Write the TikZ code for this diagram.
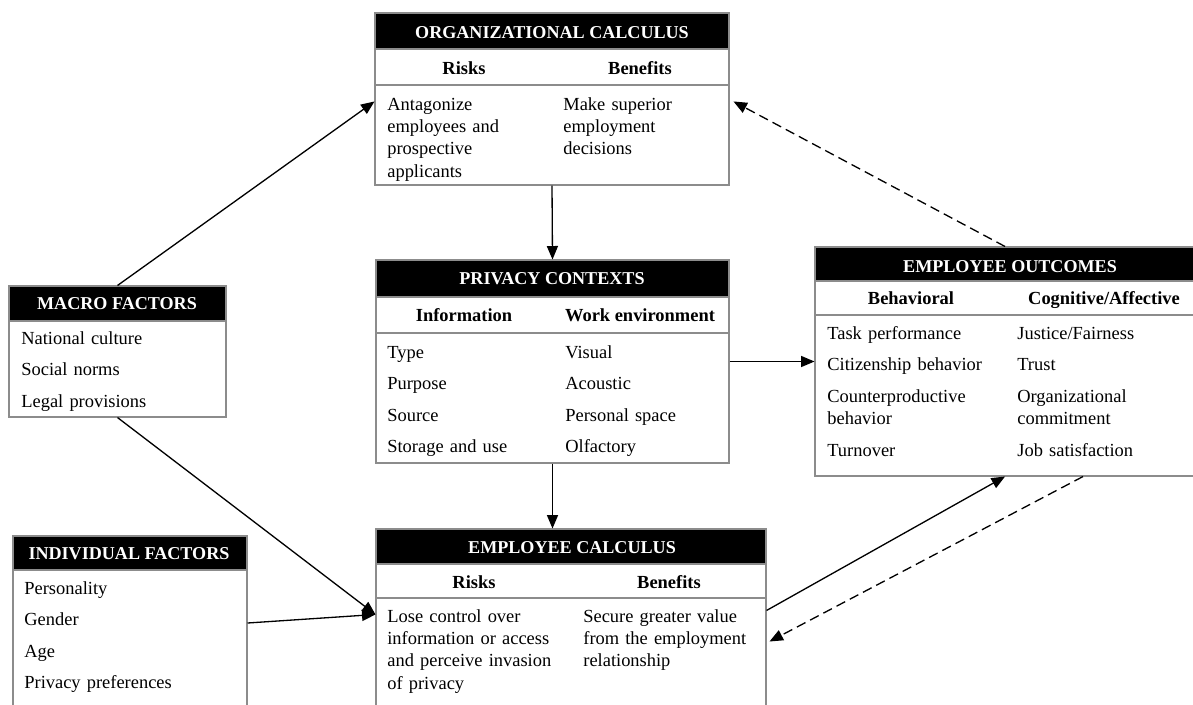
\documentclass[tikz,border=0pt]{standalone}
\usepackage{fontspec}
\setmainfont{Liberation Serif}
\usetikzlibrary{arrows,fit,calc}

\tikzset{
  box/.style={draw=gray!90, line width=0.6pt, inner sep=0pt},
  bar/.style={box, fill=black},
  bartext/.style={text=white, font=\fontsize{10.3}{12}\selectfont\bfseries, anchor=base, inner sep=0pt},
  headtext/.style={font=\fontsize{10.5}{12.8}\selectfont\bfseries, anchor=base, inner sep=0pt},
  itemtext/.style={font=\fontsize{10.5}{12.8}\selectfont, anchor=base west, inner sep=0pt, text width=4.2cm, align=left},
  itemlist/.style={itemtext, font=\fontsize{10.5}{18}\selectfont},
  conn/.style={->, >=triangle 45, line width=0.75pt},
  back/.style={conn, dash pattern=on 5.5pt off 3pt},
}

\begin{document}
\begin{tikzpicture}[x=0.02cm, y=-0.02cm]
\useasboundingbox (0,0) rectangle (1193,704);

% organizational calculus
\node[box, fit={(375,13) (729,185)}] (org) {};
\node[bar, fit={(375,13) (729,49)}] (orgbar) {};
\node[box, fit={(375,49) (729,85)}] (orghead) {};
\node[bartext] (orgtitle) at (552,38) {ORGANIZATIONAL CALCULUS};
\node[headtext] (orgrisk) at (464,74) {Risks};
\node[headtext] (orgbenefit) at (640,74) {Benefits};
\node[itemtext] (orgrisks) at (387,110) {Antagonize\\employees and\\prospective\\applicants};
\node[itemtext] (orgbenefits) at (563,110) {Make superior\\employment\\decisions};

% privacy contexts
\node[box, fit={(376,260) (729,463)}] (priv) {};
\node[bar, fit={(376,260) (729,297)}] (privbar) {};
\node[box, fit={(376,297) (729,333)}] (privhead) {};
\node[bartext] (privtitle) at (552,284) {PRIVACY CONTEXTS};
\node[headtext] (privinfo) at (464,321) {Information};
\node[headtext] (privwork) at (640,321) {Work environment};
\node[itemlist] (privinfos) at (387,358) {Type\\Purpose\\Source\\Storage and use};
\node[itemlist] (privworks) at (565,358) {Visual\\Acoustic\\Personal space\\Olfactory};

% employee outcomes
\node[box, fit={(815,247) (1195,476)}] (eo) {};
\node[bar, fit={(815,247) (1195,281)}] (eobar) {};
\node[box, fit={(815,281) (1195,315)}] (eohead) {};
\node[bartext] (eotitle) at (1010,272) {EMPLOYEE OUTCOMES};
\node[headtext] (eobehav) at (911,304) {Behavioral};
\node[headtext] (eocogn) at (1104,304) {Cognitive/Affective};
\node[itemlist] (eobehavs) at (827,339) {Task performance\\Citizenship behavior\\Counterproductive\\[-5.2pt]behavior\\Turnover};
\node[itemlist] (eocogns) at (1017,339) {Justice/Fairness\\Trust\\Organizational\\[-5.2pt]commitment\\Job satisfaction};

% macro factors
\node[box, fit={(9,286) (226,417)}] (macro) {};
\node[bar, fit={(9,286) (226,321)}] (macrobar) {};
\node[bartext] (macrotitle) at (117,309) {MACRO FACTORS};
\node[itemlist] (macros) at (21,344) {National culture\\Social norms\\Legal provisions};

% individual factors
\node[box, fit={(13,536) (247,710)}] (indiv) {};
\node[bar, fit={(13,536) (247,570)}] (indivbar) {};
\node[bartext] (indivtitle) at (129,559) {INDIVIDUAL FACTORS};
\node[itemlist] (indivs) at (24,594) {Personality\\Gender\\Age\\Privacy preferences};

% employee calculus
\node[box, fit={(376,529) (766,710)}] (emp) {};
\node[bar, fit={(376,529) (766,564)}] (empbar) {};
\node[box, fit={(376,564) (766,598)}] (emphead) {};
\node[bartext] (emptitle) at (572,553) {EMPLOYEE CALCULUS};
\node[headtext] (emprisk) at (474,588) {Risks};
\node[headtext] (empbenefit) at (669,588) {Benefits};
\node[itemtext] (emprisks) at (387,622) {Lose control over\\information or access\\and perceive invasion\\of privacy};
\node[itemtext] (empbenefits) at (583,622) {Secure greater value\\from the employment\\relationship};

% connectors
\coordinate (orgin) at ($(org.north west)+(0,89)$);
\coordinate (orgback) at ($(org.north east)+(4,89)$);
\coordinate (empin) at ($(emp.north west)+(0,86)$);
\coordinate (empout) at ($(emp.north east)+(0,82)$);
\coordinate (empback) at ($(emp.north east)+(3,113)$);
\coordinate (eoback) at ($(eo.south)+(78,0)$);

\draw[conn] (macro.north) -- (orgin);
\draw[conn] (macro.south) -- (empin);
\draw[conn] (indiv.east) -- (empin);
\draw[conn] (org.south) -- (priv.north);
\draw[conn] (priv.south) -- (priv.south |- emp.north);
\draw[conn] (priv.east) -- (eo.west);
\draw[conn] (empout) -- (eo.south);
\draw[back] (eo.north) -- (orgback);
\draw[back] (eoback) -- (empback);
\end{tikzpicture}
\end{document}
